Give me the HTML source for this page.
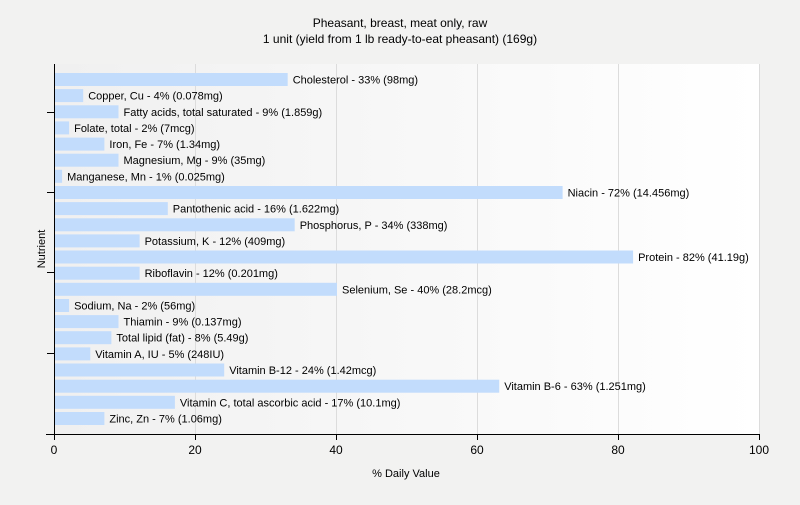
<!DOCTYPE html>
<html><head><style>
body{margin:0;background:#f2f2f1;}
svg text{font-family:"Liberation Sans",sans-serif;}
</style></head><body>
<svg width="800" height="500" xmlns="http://www.w3.org/2000/svg">
<defs><linearGradient id="g" x1="0" x2="1" y1="0" y2="0"><stop offset="0" stop-color="#f0f0f0"/><stop offset="1" stop-color="#ffffff"/></linearGradient></defs>
<rect width="800" height="500" fill="#f2f2f1"/>
<rect x="54" y="64" width="705" height="370" fill="url(#g)"/>
<g stroke="#dcdcdc" stroke-width="1">
<line x1="195.5" y1="64" x2="195.5" y2="434"/><line x1="336.5" y1="64" x2="336.5" y2="434"/><line x1="477.5" y1="64" x2="477.5" y2="434"/><line x1="618.5" y1="64" x2="618.5" y2="434"/><line x1="759.5" y1="64" x2="759.5" y2="434"/>
</g>
<text x="400" y="27" font-size="12" text-anchor="middle">Pheasant, breast, meat only, raw</text>
<text x="400" y="43" font-size="12" text-anchor="middle">1 unit (yield from 1 lb ready-to-eat pheasant) (169g)</text>
<g fill="#c2dcfc">
<rect x="55" y="73.0" width="232.7" height="13"/>
<rect x="55" y="89.1" width="28.2" height="13"/>
<rect x="55" y="105.3" width="63.5" height="13"/>
<rect x="55" y="121.4" width="14.1" height="13"/>
<rect x="55" y="137.6" width="49.4" height="13"/>
<rect x="55" y="153.7" width="63.5" height="13"/>
<rect x="55" y="169.8" width="7.1" height="13"/>
<rect x="55" y="186.0" width="507.6" height="13"/>
<rect x="55" y="202.1" width="112.8" height="13"/>
<rect x="55" y="218.3" width="239.7" height="13"/>
<rect x="55" y="234.4" width="84.6" height="13"/>
<rect x="55" y="250.5" width="578.1" height="13"/>
<rect x="55" y="266.7" width="84.6" height="13"/>
<rect x="55" y="282.8" width="282" height="13"/>
<rect x="55" y="299.0" width="14.1" height="13"/>
<rect x="55" y="315.1" width="63.5" height="13"/>
<rect x="55" y="331.2" width="56.4" height="13"/>
<rect x="55" y="347.4" width="35.3" height="13"/>
<rect x="55" y="363.5" width="169.2" height="13"/>
<rect x="55" y="379.7" width="444.2" height="13"/>
<rect x="55" y="395.8" width="119.9" height="13"/>
<rect x="55" y="412.0" width="49.4" height="13"/>
</g>
<g font-size="11" fill="#000">
<text x="292.7" y="83.5">Cholesterol - 33% (98mg)</text>
<text x="88.2" y="99.6">Copper, Cu - 4% (0.078mg)</text>
<text x="123.5" y="115.8">Fatty acids, total saturated - 9% (1.859g)</text>
<text x="74.1" y="131.9">Folate, total - 2% (7mcg)</text>
<text x="109.4" y="148.1">Iron, Fe - 7% (1.34mg)</text>
<text x="123.5" y="164.2">Magnesium, Mg - 9% (35mg)</text>
<text x="67.1" y="180.3">Manganese, Mn - 1% (0.025mg)</text>
<text x="567.6" y="196.5">Niacin - 72% (14.456mg)</text>
<text x="172.8" y="212.6">Pantothenic acid - 16% (1.622mg)</text>
<text x="299.7" y="228.8">Phosphorus, P - 34% (338mg)</text>
<text x="144.6" y="244.9">Potassium, K - 12% (409mg)</text>
<text x="638.1" y="261.0">Protein - 82% (41.19g)</text>
<text x="144.6" y="277.2">Riboflavin - 12% (0.201mg)</text>
<text x="342" y="293.3">Selenium, Se - 40% (28.2mcg)</text>
<text x="74.1" y="309.5">Sodium, Na - 2% (56mg)</text>
<text x="123.5" y="325.6">Thiamin - 9% (0.137mg)</text>
<text x="116.4" y="341.7">Total lipid (fat) - 8% (5.49g)</text>
<text x="95.3" y="357.9">Vitamin A, IU - 5% (248IU)</text>
<text x="229.2" y="374.0">Vitamin B-12 - 24% (1.42mcg)</text>
<text x="504.2" y="390.2">Vitamin B-6 - 63% (1.251mg)</text>
<text x="179.9" y="406.3">Vitamin C, total ascorbic acid - 17% (10.1mg)</text>
<text x="109.4" y="422.5">Zinc, Zn - 7% (1.06mg)</text>
</g>
<line x1="54.5" y1="64" x2="54.5" y2="435" stroke="#000"/>
<line x1="46" y1="434.5" x2="759" y2="434.5" stroke="#000"/>
<g stroke="#000">
<line x1="54.5" y1="434" x2="54.5" y2="440"/><line x1="195.5" y1="434" x2="195.5" y2="440"/><line x1="336.5" y1="434" x2="336.5" y2="440"/><line x1="477.5" y1="434" x2="477.5" y2="440"/><line x1="618.5" y1="434" x2="618.5" y2="440"/><line x1="759.5" y1="434" x2="759.5" y2="440"/>
<line x1="47" y1="112.5" x2="54" y2="112.5"/><line x1="47" y1="192.5" x2="54" y2="192.5"/><line x1="47" y1="272.5" x2="54" y2="272.5"/><line x1="47" y1="353.5" x2="54" y2="353.5"/>
</g>
<g font-size="12" text-anchor="middle">
<text x="54" y="454">0</text><text x="195" y="454">20</text><text x="336" y="454">40</text><text x="477" y="454">60</text><text x="618" y="454">80</text><text x="759" y="454">100</text>
</g>
<text x="406" y="477" font-size="11" text-anchor="middle">% Daily Value</text>
<text transform="translate(45,249) rotate(-90)" font-size="11" text-anchor="middle">Nutrient</text>
</svg>
</body></html>
